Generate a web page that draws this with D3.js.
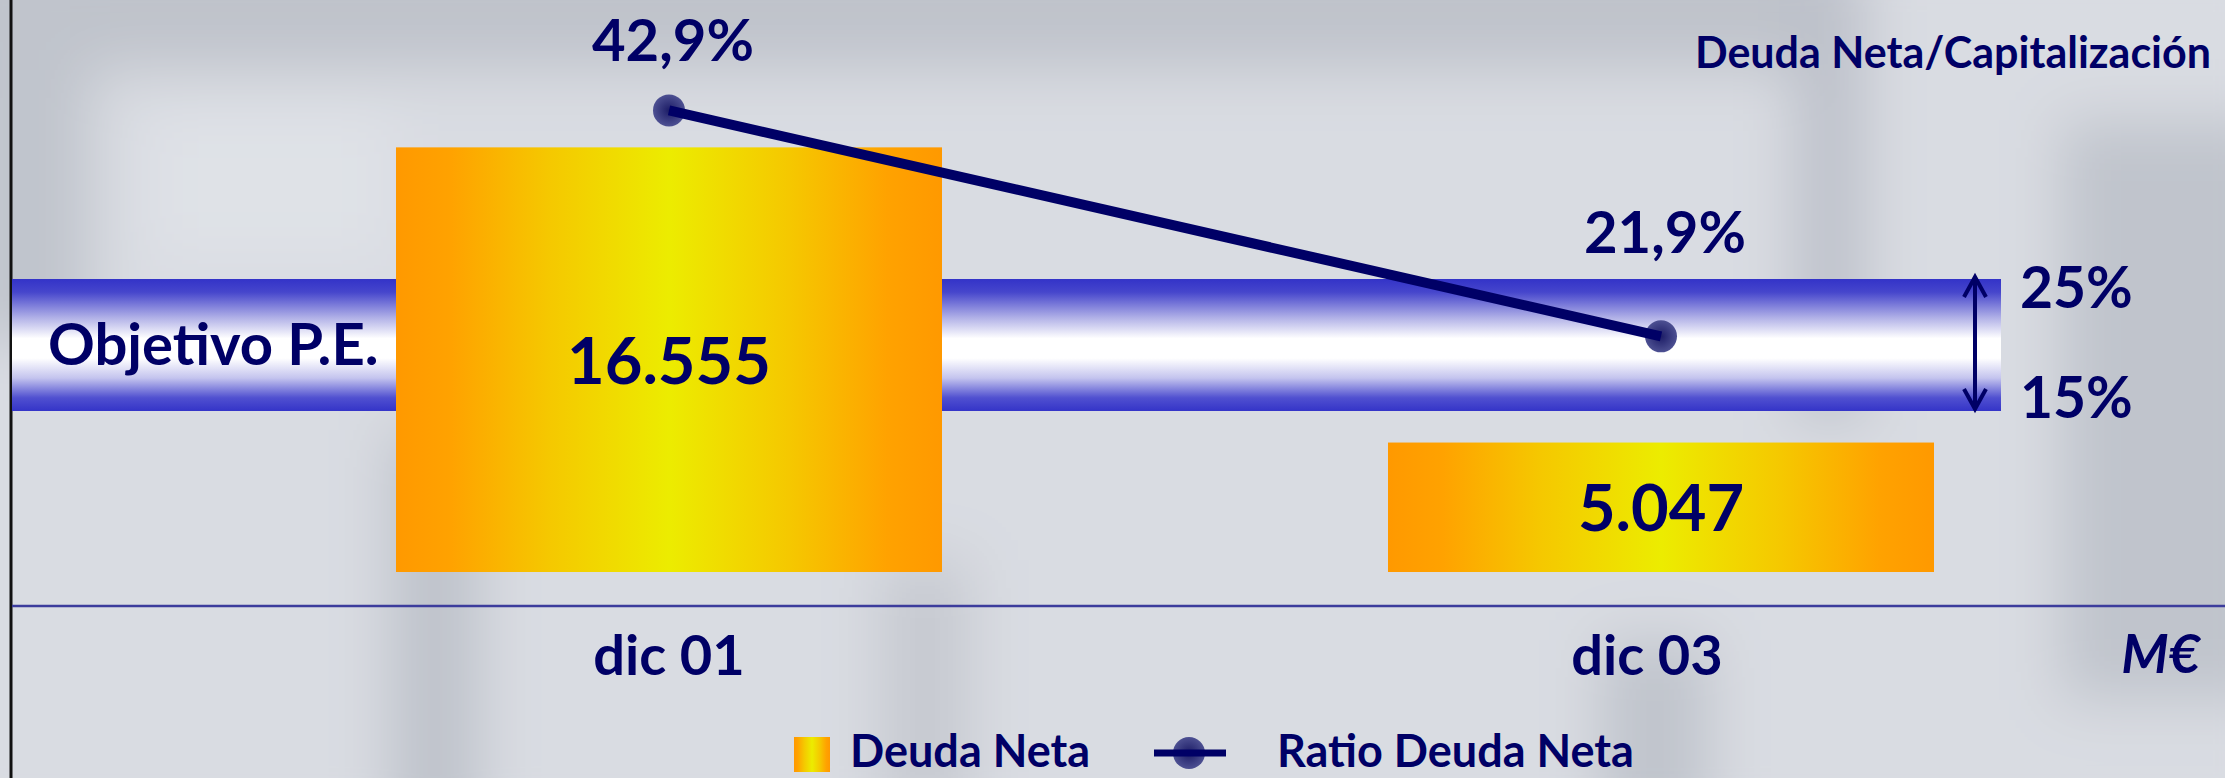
<!DOCTYPE html>
<html>
<head>
<meta charset="utf-8">
<script src="https://cdn.jsdelivr.net/npm/d3@7"></script>
<style>
  body { margin: 0; background: #d9dce2; overflow: hidden; }
  svg { display: block; }
  text { font-family: Lato, "Open Sans", sans-serif; font-weight: 700; fill: #000066; }
</style>
</head>
<body>
<div id="chart"></div>
<script>
// chart data
var categories = ["dic 01", "dic 03"];
var deudaNeta = [16555, 5047];        // M€
var ratioDeuda = [42.9, 21.9];        // Deuda Neta / Capitalización, %
var objetivo = [15, 25];              // Objetivo P.E. range, %
var legendLabels = ["Deuda Neta", "Ratio Deuda Neta"];

var navy = "#000066";

// spanish number format: 16.555 / 42,9%
var es = d3.formatLocale({ decimal: ",", thousands: ".", grouping: [3], currency: ["", " €"] });
var fmtInt = es.format(",d");
var fmtPct = function(v) { return es.format(".1f")(v) + "%"; };
var fmtPct0 = function(v) { return es.format("d")(v) + "%"; };

var svgWidth = 2225;
var svgHeight = 778;

var svg = d3.select("#chart")
  .append("svg")
  .attr("width", svgWidth)
  .attr("height", svgHeight);

var defs = svg.append("defs");

// blurred backdrop
defs.append("filter")
  .attr("id", "soft")
  .attr("x", "-50%").attr("y", "-50%").attr("width", "200%").attr("height", "200%")
  .append("feGaussianBlur")
  .attr("stdDeviation", 30);

// bar fill: orange edges, yellow middle
var barGrad = defs.append("linearGradient").attr("id", "barGrad")
  .attr("x1", "0%").attr("x2", "100%").attr("y1", "0%").attr("y2", "0%");
[[0, "#ff9900"], [0.1, "#ffa200"], [0.28, "#f5c800"], [0.5, "#ecec00"], [0.72, "#f5c800"], [0.9, "#ffa200"], [1, "#ff9900"]]
  .forEach(function(s) { barGrad.append("stop").attr("offset", s[0]).attr("stop-color", s[1]); });

// objective band: blue edges, white centre
var bandGrad = defs.append("linearGradient").attr("id", "bandGrad")
  .attr("x1", "0%").attr("x2", "0%").attr("y1", "0%").attr("y2", "100%");
[[0, "#3333c8"], [0.1, "#4646cc"], [0.3, "#b4b4e8"], [0.45, "#ffffff"], [0.6, "#ffffff"], [0.75, "#c4c4ee"], [0.9, "#5050d0"], [1, "#3434c8"]]
  .forEach(function(s) { bandGrad.append("stop").attr("offset", s[0]).attr("stop-color", s[1]); });

var dotGrad = defs.append("radialGradient").attr("id", "dotGrad");
dotGrad.append("stop").attr("offset", 0).attr("stop-color", "#1c1c66");
dotGrad.append("stop").attr("offset", 1).attr("stop-color", "#4d5092");

// background shapes
var bg = svg.append("g").attr("filter", "url(#soft)");
bg.append("rect").attr("x", -60).attr("y", -60).attr("width", svgWidth + 120).attr("height", svgHeight + 120).attr("fill", "#d9dce2");
[
  [-60, -60, 1880, 130, "#bfc3cb"],
  [-40, -20, 130, 360, "#c0c4cc"],
  [1795, -40, 70, 460, "#bcc0c9"],
  [2060, 120, 220, 580, "#c0c4cc"],
  [390, 430, 90, 420, "#bec2ca"],
  [1600, 640, 110, 200, "#c0c4cc"],
  [880, 560, 90, 260, "#c6c9d0"]
].forEach(function(r) {
  bg.append("rect").attr("x", r[0]).attr("y", r[1]).attr("width", r[2]).attr("height", r[3]).attr("fill", r[4]);
});
bg.append("rect").attr("x", 150).attr("y", 110).attr("width", 240).attr("height", 150).attr("fill", "#dfe2e7");

// left edge
svg.append("line")
  .attr("x1", 11).attr("x2", 11).attr("y1", 0).attr("y2", svgHeight)
  .attr("stroke", "#111").attr("stroke-width", 3);

// scales
var x = d3.scalePoint().domain(categories).range([669, 1661]);
var barWidth = 546;
var yBar = d3.scaleLinear().domain([0, 20000]).range([572, 59]);
var yRatio = d3.scaleLinear().domain([0, 50]).range([572, 34]);
var yBand = d3.scaleLinear().domain(objetivo).range([411, 279]);

var bandRight = 2001;

// objective band
svg.append("rect")
  .attr("x", 12)
  .attr("y", yBand(objetivo[1]))
  .attr("width", bandRight - 12)
  .attr("height", yBand(objetivo[0]) - yBand(objetivo[1]))
  .attr("fill", "url(#bandGrad)");

svg.append("text")
  .attr("x", 48)
  .attr("y", yBand(20) + 20)
  .attr("font-size", 58)
  .text("Objetivo P.E.");

// double arrow + range labels
var arrowX = 1975;
var aTop = yBand(objetivo[1]) - 2, aBot = yBand(objetivo[0]) - 2;
var arrow = svg.append("g").attr("stroke", navy).attr("stroke-width", 4).attr("fill", "none");
arrow.append("line").attr("x1", arrowX).attr("x2", arrowX).attr("y1", aTop).attr("y2", aBot);
arrow.append("path").attr("d", d3.line()([[arrowX - 11, aTop + 20], [arrowX, aTop], [arrowX + 11, aTop + 20]]));
arrow.append("path").attr("d", d3.line()([[arrowX - 11, aBot - 20], [arrowX, aBot], [arrowX + 11, aBot - 20]]));

svg.append("g").selectAll("text")
  .data(objetivo)
  .enter()
  .append("text")
  .attr("x", 2020)
  .attr("y", function(d) { return yBand(d) + (d === objetivo[1] ? 29 : 7); })
  .attr("font-size", 57)
  .text(fmtPct0);

// bars
svg.append("g").selectAll("rect")
  .data(deudaNeta)
  .enter()
  .append("rect")
  .attr("x", function(d, i) { return x(categories[i]) - barWidth / 2; })
  .attr("y", function(d) { return yBar(d); })
  .attr("width", barWidth)
  .attr("height", function(d) { return yBar(0) - yBar(d); })
  .attr("fill", "url(#barGrad)");

svg.append("g").selectAll("text")
  .data(deudaNeta)
  .enter()
  .append("text")
  .attr("text-anchor", "middle")
  .attr("x", function(d, i) { return x(categories[i]); })
  .attr("y", function(d) { return (yBar(d) + yBar(0)) / 2 + 24; })
  .attr("font-size", 65)
  .text(fmtInt);

// axis line and category labels
svg.append("line")
  .attr("x1", 12).attr("x2", svgWidth).attr("y1", 606).attr("y2", 606)
  .attr("stroke", "#3c3c9c").attr("stroke-width", 2.5);

svg.append("g").selectAll("text")
  .data(categories)
  .enter()
  .append("text")
  .attr("text-anchor", "middle")
  .attr("x", function(d, i) { return x(d) - i * 14; })
  .attr("y", 675)
  .attr("font-size", 56)
  .text(function(d) { return d; });

svg.append("text")
  .attr("x", 2200).attr("y", 673)
  .attr("text-anchor", "end")
  .attr("font-size", 54)
  .attr("font-style", "italic")
  .text("M€");

// ratio line, dots underneath
var pts = ratioDeuda.map(function(v, i) { return [x(categories[i]), yRatio(v)]; });

svg.append("g").selectAll("circle")
  .data(pts)
  .enter()
  .append("circle")
  .attr("cx", function(d) { return d[0]; })
  .attr("cy", function(d) { return d[1]; })
  .attr("r", 16)
  .attr("fill", "url(#dotGrad)");

svg.append("path")
  .attr("d", d3.line()(pts))
  .attr("stroke", navy)
  .attr("stroke-width", 10)
  .attr("fill", "none");

// ratio labels, kept clear of the band
svg.append("g").selectAll("text")
  .data(ratioDeuda)
  .enter()
  .append("text")
  .attr("text-anchor", "middle")
  .attr("x", function(d, i) { return x(categories[i]) + 4; })
  .attr("y", function(d) { return Math.min(yRatio(d) - 49, yBand(objetivo[1]) - 26); })
  .attr("font-size", 58)
  .text(fmtPct);

svg.append("text")
  .attr("x", 2211).attr("y", 68)
  .attr("text-anchor", "end")
  .attr("font-size", 43)
  .text("Deuda Neta/Capitalización");

// legend
var legend = svg.append("g").attr("transform", "translate(794, 737)");
legend.append("rect")
  .attr("width", 36).attr("height", 35)
  .attr("fill", "url(#barGrad)");
legend.append("text")
  .attr("x", 56).attr("y", 30)
  .attr("font-size", 45)
  .text(legendLabels[0]);
legend.append("circle")
  .attr("cx", 395).attr("cy", 16).attr("r", 16)
  .attr("fill", "url(#dotGrad)");
legend.append("line")
  .attr("x1", 360).attr("x2", 432).attr("y1", 16).attr("y2", 16)
  .attr("stroke", navy).attr("stroke-width", 7);
legend.append("text")
  .attr("x", 483).attr("y", 30)
  .attr("font-size", 45)
  .text(legendLabels[1]);
</script>
</body>
</html>
